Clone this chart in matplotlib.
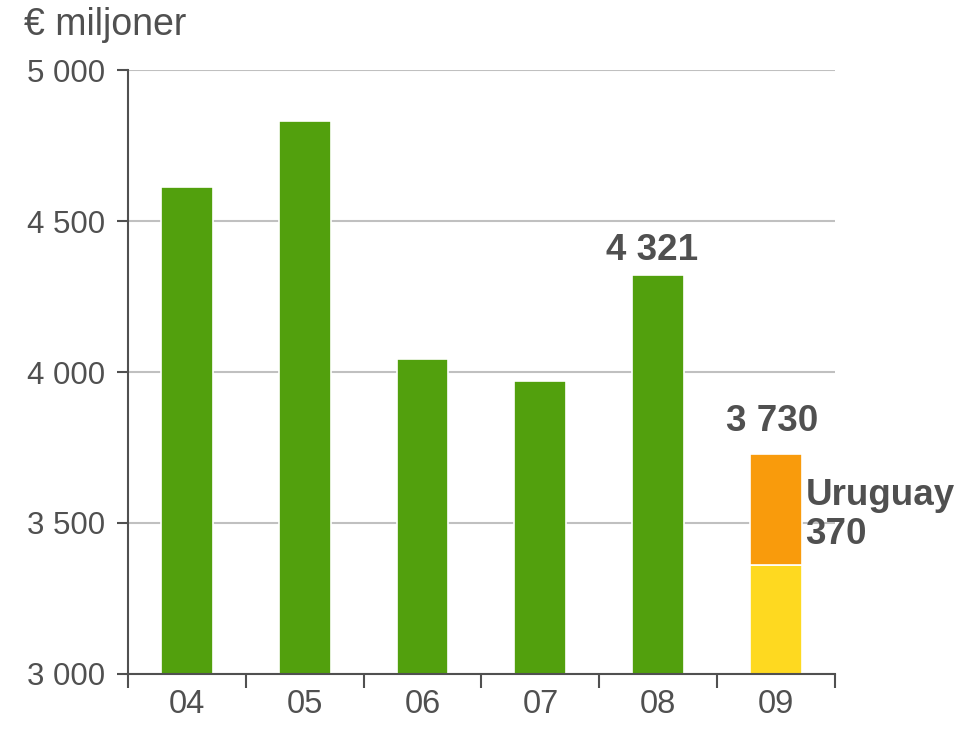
import matplotlib.pyplot as plt
import numpy as np

years = ["04", "05", "06", "07", "08", "09"]
base = [4613, 4831, 4043, 3970, 4321, 3360]
uruguay = [0, 0, 0, 0, 0, 370]
y_ticks = [3000, 3500, 4000, 4500, 5000]
y_tick_labels = ["3 000", "3 500", "4 000", "4 500", "5 000"]

plt.rcParams['font.family'] = ['Liberation Sans', 'DejaVu Sans']
txt = '#505050'
green = '#52a00d'
yellow = '#fed920'
orange = '#f99b0c'

fig = plt.figure(figsize=(9.72, 7.31), dpi=100)
ax = fig.add_axes([0.1317, 0.078, 0.859 - 0.1317, 0.9042 - 0.078])

x = np.arange(len(years))
colors = [green] * 5 + [yellow]
ax.bar(x, np.array(base) - 3000, bottom=3000, width=0.44, color=colors,
       edgecolor='white', linewidth=1.2, zorder=3)
ax.bar(x[-1], uruguay[-1], bottom=base[-1], width=0.44, color=orange,
       edgecolor='white', linewidth=1.2, zorder=3)

ax.set_xlim(-0.5, len(years) - 0.5)
ax.set_ylim(3000, 5000)
ax.set_yticks(y_ticks)
ax.set_yticklabels(y_tick_labels)
ax.set_xticks(x)
ax.set_xticklabels(years)
ax.set_xticks(np.arange(-0.5, len(years)), minor=True)
ax.tick_params(axis='x', which='major', length=0, pad=11, labelsize=23.5, labelcolor=txt)
ax.tick_params(axis='x', which='minor', length=10, width=1.5, color='#505050')
ax.tick_params(axis='y', length=8, width=1.5, color='#505050', pad=8.5, labelsize=22.5, labelcolor=txt)

ax.grid(axis='y', color='#c0c0c0', linewidth=1.5, zorder=0)
for s in ['top', 'right']:
    ax.spines[s].set_visible(False)
for s in ['left', 'bottom']:
    ax.spines[s].set_color('#505050')
    ax.spines[s].set_linewidth(1.5)
    ax.spines[s].set_zorder(4)

ax.text(x[4] - 0.05, base[4] + 22, "4 321", ha='center', va='bottom',
        fontsize=26.5, fontweight='bold', color=txt)
total = base[-1] + uruguay[-1]
ax.text(x[5] - 0.03, total + 48, "3 730", ha='center', va='bottom',
        fontsize=26.5, fontweight='bold', color=txt)
ax.text(x[5] + 0.25, base[-1] + uruguay[-1] / 2 - 20, "Uruguay\n370", ha='left', va='center',
        fontsize=26.5, fontweight='bold', color=txt, linespacing=1.15)

fig.text(0.025, 0.966, "€ miljoner", ha='left', va='center', fontsize=27, color=txt)

fig.savefig("out.png", dpi=100)
